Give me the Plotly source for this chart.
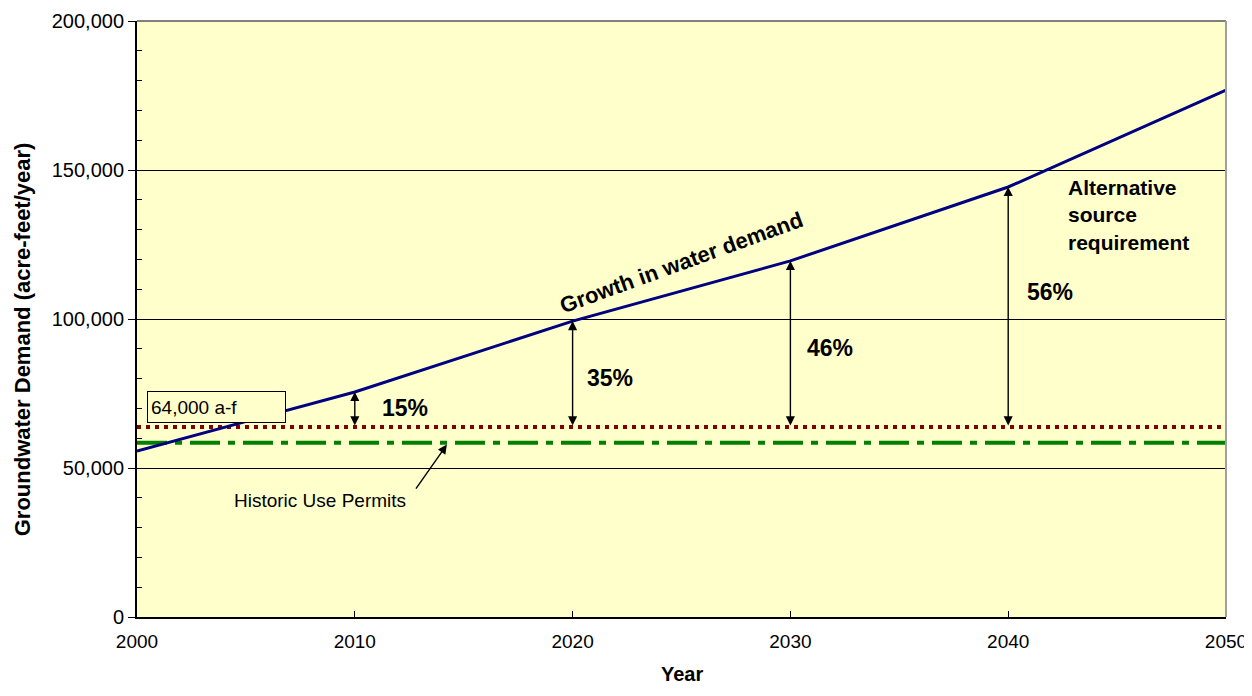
import plotly.graph_objects as go

years = [2000, 2010, 2020, 2030, 2040, 2050]
demand = [55700, 75500, 99300, 119500, 144300, 176800]
cap_years = [2000, 2050]
cap_64k = [63800, 63800]
historic = [58500, 58500]
arrow_years = [2010, 2020, 2030, 2040]
arrow_top = [75500, 99300, 119500, 144300]
pct_labels = ["15%", "35%", "46%", "56%"]
pct_x = [2012.3, 2021.7, 2031.8, 2041.9]
pct_y = [70100, 80200, 90300, 109100]

FONT = "Liberation Sans, Arial, sans-serif"

fig = go.Figure()
fig.add_trace(go.Scatter(x=cap_years, y=historic, mode="lines",
                         line=dict(color="#008000", width=4, dash="30px,8px,7px,8px"),
                         hoverinfo="skip", showlegend=False))
fig.add_trace(go.Scatter(x=cap_years, y=cap_64k, mode="lines",
                         line=dict(color="#800000", width=4, dash="4px,5px"),
                         hoverinfo="skip", showlegend=False))
fig.add_trace(go.Scatter(x=years, y=demand, mode="lines",
                         line=dict(color="#000080", width=3),
                         hoverinfo="skip", showlegend=False))

ann = []
for xv, yt in zip(arrow_years, arrow_top):
    ann.append(dict(x=xv, y=yt, ax=xv, ay=cap_64k[0], xref="x", yref="y",
                    axref="x", ayref="y", text="", showarrow=True,
                    arrowhead=2, arrowside="end+start", arrowsize=1.3,
                    arrowwidth=1.4, arrowcolor="black", standoff=0, startstandoff=0))
for t, xv, yv in zip(pct_labels, pct_x, pct_y):
    ann.append(dict(x=xv, y=yv, xref="x", yref="y", text="<b>%s</b>" % t,
                    showarrow=False, font=dict(family=FONT, size=23, color="black")))
ann.append(dict(x=2000.45, y=70600, xref="x", yref="y", text="64,000 a-f",
                showarrow=False, xanchor="left", yanchor="middle",
                font=dict(family=FONT, size=19, color="black"),
                bordercolor="black", borderwidth=1, borderpad=3,
                bgcolor="#FFFFCC", width=131, height=24, align="left"))
ann.append(dict(x=2004.36, y=39260, xref="x", yref="y", text="Historic Use Permits",
                showarrow=False, xanchor="left",
                font=dict(family=FONT, size=19, color="black")))
ann.append(dict(x=2014.28, y=58400, ax=2012.76, ay=42600, xref="x", yref="y",
                axref="x", ayref="y", text="", showarrow=True, arrowhead=2,
                arrowsize=1.3, arrowwidth=1.4, arrowcolor="black", standoff=2))
ann.append(dict(x=2025.0, y=119000, xref="x", yref="y",
                text="<b>Growth in water demand</b>", showarrow=False, textangle=-20,
                font=dict(family="Liberation Sans Narrow, Arial Narrow, sans-serif",
                          size=22, color="black")))
ann.append(dict(x=2042.66, y=134900, xref="x", yref="y",
                text="<b>Alternative<br>source<br>requirement</b>", showarrow=False,
                xanchor="left", yanchor="middle", align="left",
                font=dict(family=FONT, size=21, color="black")))
# axis titles
ann.append(dict(x=-0.1056, y=0.466, xref="paper", yref="paper",
                text="<b>Groundwater Demand (acre-feet/year)</b>", showarrow=False,
                textangle=-90, xanchor="center", yanchor="middle",
                font=dict(family=FONT, size=22, color="black")))
ann.append(dict(x=0.5, y=-0.0956, xref="paper", yref="paper",
                text="<b>Year</b>", showarrow=False, xanchor="center", yanchor="middle",
                font=dict(family=FONT, size=20, color="black")))

fig.update_layout(
    width=1244, height=680,
    margin=dict(l=129, r=26, t=13, b=71),
    plot_bgcolor="#FFFFCC", paper_bgcolor="white",
    font=dict(family=FONT, size=20, color="black"),
    annotations=ann,
    shapes=[
        dict(type="line", xref="paper", yref="paper", x0=0, x1=1, y0=1, y1=1,
             line=dict(color="#808080", width=2)),
        dict(type="line", xref="paper", yref="paper", x0=1, x1=1, y0=0, y1=1,
             line=dict(color="#A0A0A0", width=2)),
    ],
    xaxis=dict(range=[2000, 2050], dtick=10, tick0=2000, showgrid=False,
               zeroline=False, showline=True, linecolor="black", linewidth=2,
               ticks="inside", ticklen=6, tickcolor="black", automargin=False,
               tickfont=dict(size=19), ticklabelstandoff=6,
               ticklabeloverflow="allow"),
    yaxis=dict(range=[0, 200000], dtick=50000, tickformat=",", showgrid=True,
               gridcolor="black", gridwidth=1, zeroline=False, showline=True,
               linecolor="black", linewidth=2, ticks="outside", ticklen=7,
               tickcolor="black", tickfont=dict(size=20), automargin=False,
               minor=dict(dtick=10000, ticks="inside", ticklen=5, tickcolor="black",
                          showgrid=False)),
)

fig.write_html("out.html")
